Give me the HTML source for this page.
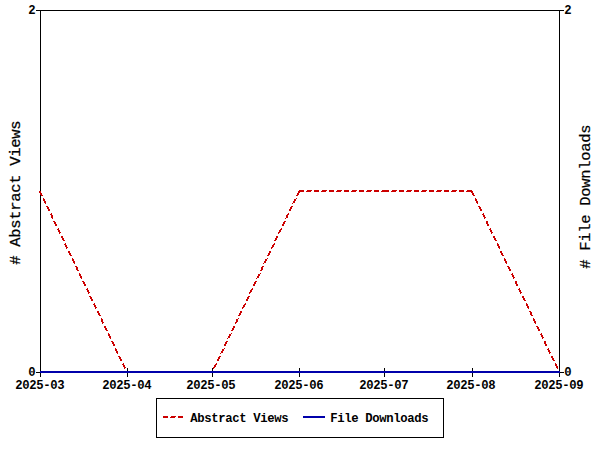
<!DOCTYPE html>
<html>
<head>
<meta charset="utf-8">
<title>Usage statistics chart</title>
<style>
html,body{margin:0;padding:0;background:#fff;}
body{width:600px;height:450px;overflow:hidden;}
svg{display:block;}
.s{font-family:"Liberation Mono",monospace;font-weight:bold;font-size:12.25px;letter-spacing:-0.35px;fill:#000;}
.t{font-family:"Liberation Mono",monospace;font-weight:normal;font-size:15.5px;letter-spacing:-0.3px;fill:#000;stroke:#000;stroke-width:0.25px;}
</style>
</head>
<body>
<svg width="600" height="450" viewBox="0 0 600 450">
<rect width="600" height="450" fill="#fff"/>
<g shape-rendering="crispEdges" stroke="#000" stroke-width="1" fill="none">
<path d="M36 10.5H564M36 372.5H564M40.5 10V377M559.5 10V377"/>
<path d="M127.5 368V377M212.5 368V377M299.5 368V377M384.5 368V377M472.5 368V377"/>
<rect x="156.5" y="398.5" width="287" height="39"/>
</g>
<path fill="#cc0000" shape-rendering="crispEdges" d="M299 190h5v1h-5zM307 190h5v1h-5zM314 190h5v1h-5zM322 190h5v1h-5zM329 190h5v1h-5zM337 190h5v1h-5zM344 190h5v1h-5zM352 190h5v1h-5zM359 190h5v1h-5zM367 190h5v1h-5zM374 190h5v1h-5zM382 190h7v1h-7zM392 190h5v1h-5zM399 190h5v1h-5zM407 190h5v1h-5zM414 190h5v1h-5zM422 190h5v1h-5zM429 190h5v1h-5zM437 190h5v1h-5zM444 190h5v1h-5zM452 190h5v1h-5zM459 190h5v1h-5zM467 190h5v1h-5zM39 191h2v1h-2zM298 191h6v1h-6zM306 191h5v1h-5zM314 191h5v1h-5zM321 191h5v1h-5zM329 191h5v1h-5zM336 191h5v1h-5zM344 191h5v1h-5zM351 191h5v1h-5zM359 191h5v1h-5zM366 191h5v1h-5zM374 191h5v1h-5zM381 191h8v1h-8zM391 191h5v1h-5zM399 191h5v1h-5zM406 191h5v1h-5zM414 191h5v1h-5zM421 191h5v1h-5zM429 191h5v1h-5zM436 191h5v1h-5zM444 191h5v1h-5zM451 191h5v1h-5zM459 191h5v1h-5zM466 191h7v1h-7zM39 192h2v1h-2zM298 192h2v1h-2zM471 192h2v1h-2zM40 193h2v1h-2zM297 193h2v1h-2zM472 193h2v1h-2zM40 194h2v1h-2zM297 194h2v1h-2zM472 194h2v1h-2zM41 195h2v1h-2zM296 195h2v1h-2zM473 195h2v1h-2zM43 198h1v1h-1zM296 198h1v1h-1zM475 198h1v1h-1zM43 199h2v1h-2zM294 199h2v1h-2zM475 199h2v1h-2zM43 200h2v1h-2zM294 200h2v1h-2zM475 200h2v1h-2zM44 201h2v1h-2zM293 201h2v1h-2zM476 201h2v1h-2zM44 202h2v1h-2zM293 202h2v1h-2zM476 202h2v1h-2zM45 203h1v1h-1zM292 203h1v1h-1zM477 203h1v1h-1zM46 206h2v1h-2zM291 206h2v1h-2zM478 206h2v1h-2zM47 207h2v1h-2zM290 207h2v1h-2zM479 207h2v1h-2zM47 208h2v1h-2zM290 208h2v1h-2zM479 208h2v1h-2zM48 209h2v1h-2zM289 209h2v1h-2zM480 209h2v1h-2zM48 210h2v1h-2zM289 210h2v1h-2zM480 210h2v1h-2zM51 213h1v1h-1zM288 213h1v1h-1zM483 213h1v1h-1zM50 214h2v1h-2zM287 214h2v1h-2zM482 214h2v1h-2zM51 215h2v1h-2zM286 215h2v1h-2zM483 215h2v1h-2zM51 216h2v1h-2zM286 216h2v1h-2zM483 216h2v1h-2zM51 217h2v1h-2zM286 217h2v1h-2zM484 217h2v1h-2zM52 218h1v1h-1zM285 218h1v1h-1zM484 218h1v1h-1zM53 221h2v1h-2zM284 221h2v1h-2zM486 221h2v1h-2zM54 222h2v1h-2zM283 222h2v1h-2zM486 222h2v1h-2zM54 223h2v1h-2zM283 223h2v1h-2zM486 223h2v1h-2zM55 224h2v1h-2zM282 224h2v1h-2zM487 224h2v1h-2zM55 225h2v1h-2zM282 225h2v1h-2zM487 225h2v1h-2zM58 228h1v1h-1zM281 228h1v1h-1zM490 228h1v1h-1zM57 229h2v1h-2zM280 229h2v1h-2zM489 229h2v1h-2zM58 230h2v1h-2zM279 230h2v1h-2zM490 230h2v1h-2zM58 231h2v1h-2zM279 231h2v1h-2zM490 231h2v1h-2zM59 232h2v1h-2zM278 232h2v1h-2zM491 232h2v1h-2zM59 233h1v1h-1zM278 233h1v1h-1zM491 233h1v1h-1zM61 236h2v1h-2zM276 236h2v1h-2zM493 236h2v1h-2zM61 237h2v1h-2zM276 237h2v1h-2zM493 237h2v1h-2zM62 238h2v1h-2zM275 238h2v1h-2zM494 238h2v1h-2zM62 239h2v1h-2zM275 239h2v1h-2zM494 239h2v1h-2zM63 240h2v1h-2zM274 240h2v1h-2zM495 240h2v1h-2zM65 243h1v1h-1zM274 243h1v1h-1zM497 243h1v1h-1zM64 244h2v1h-2zM273 244h2v1h-2zM497 244h2v1h-2zM65 245h2v1h-2zM272 245h2v1h-2zM497 245h2v1h-2zM65 246h2v1h-2zM272 246h2v1h-2zM498 246h2v1h-2zM66 247h2v1h-2zM271 247h2v1h-2zM498 247h2v1h-2zM66 248h1v1h-1zM271 248h1v1h-1zM499 248h1v1h-1zM68 251h2v1h-2zM269 251h2v1h-2zM500 251h2v1h-2zM68 252h2v1h-2zM269 252h2v1h-2zM500 252h2v1h-2zM69 253h2v1h-2zM268 253h2v1h-2zM501 253h2v1h-2zM69 254h2v1h-2zM268 254h2v1h-2zM501 254h2v1h-2zM70 255h2v1h-2zM267 255h2v1h-2zM502 255h2v1h-2zM72 258h1v1h-1zM267 258h1v1h-1zM504 258h1v1h-1zM72 259h2v1h-2zM265 259h2v1h-2zM504 259h2v1h-2zM72 260h2v1h-2zM265 260h2v1h-2zM504 260h2v1h-2zM73 261h2v1h-2zM264 261h2v1h-2zM505 261h2v1h-2zM73 262h2v1h-2zM264 262h2v1h-2zM505 262h2v1h-2zM74 263h1v1h-1zM263 263h1v1h-1zM506 263h1v1h-1zM75 266h2v1h-2zM262 266h2v1h-2zM507 266h2v1h-2zM76 267h2v1h-2zM261 267h2v1h-2zM508 267h2v1h-2zM76 268h2v1h-2zM261 268h2v1h-2zM508 268h2v1h-2zM76 269h2v1h-2zM261 269h2v1h-2zM509 269h2v1h-2zM77 270h2v1h-2zM260 270h2v1h-2zM509 270h2v1h-2zM79 273h1v1h-1zM260 273h1v1h-1zM512 273h1v1h-1zM79 274h2v1h-2zM258 274h2v1h-2zM511 274h2v1h-2zM79 275h2v1h-2zM258 275h2v1h-2zM512 275h2v1h-2zM80 276h2v1h-2zM257 276h2v1h-2zM512 276h2v1h-2zM80 277h2v1h-2zM257 277h2v1h-2zM513 277h2v1h-2zM81 278h1v1h-1zM256 278h1v1h-1zM513 278h1v1h-1zM82 281h2v1h-2zM255 281h2v1h-2zM515 281h2v1h-2zM83 282h2v1h-2zM254 282h2v1h-2zM515 282h2v1h-2zM83 283h2v1h-2zM254 283h2v1h-2zM515 283h2v1h-2zM84 284h2v1h-2zM253 284h2v1h-2zM516 284h2v1h-2zM84 285h2v1h-2zM253 285h2v1h-2zM516 285h2v1h-2zM87 288h1v1h-1zM252 288h1v1h-1zM519 288h1v1h-1zM86 289h2v1h-2zM251 289h2v1h-2zM518 289h2v1h-2zM87 290h2v1h-2zM250 290h2v1h-2zM519 290h2v1h-2zM87 291h2v1h-2zM250 291h2v1h-2zM519 291h2v1h-2zM88 292h2v1h-2zM249 292h2v1h-2zM520 292h2v1h-2zM88 293h1v1h-1zM249 293h1v1h-1zM520 293h1v1h-1zM89 296h2v1h-2zM248 296h2v1h-2zM522 296h2v1h-2zM90 297h2v1h-2zM247 297h2v1h-2zM522 297h2v1h-2zM90 298h2v1h-2zM247 298h2v1h-2zM523 298h2v1h-2zM91 299h2v1h-2zM246 299h2v1h-2zM523 299h2v1h-2zM91 300h2v1h-2zM246 300h2v1h-2zM524 300h2v1h-2zM94 303h1v1h-1zM245 303h1v1h-1zM526 303h1v1h-1zM93 304h2v1h-2zM244 304h2v1h-2zM526 304h2v1h-2zM94 305h2v1h-2zM243 305h2v1h-2zM526 305h2v1h-2zM94 306h2v1h-2zM243 306h2v1h-2zM527 306h2v1h-2zM95 307h2v1h-2zM242 307h2v1h-2zM527 307h2v1h-2zM95 308h1v1h-1zM242 308h1v1h-1zM528 308h1v1h-1zM97 311h2v1h-2zM240 311h2v1h-2zM529 311h2v1h-2zM97 312h2v1h-2zM240 312h2v1h-2zM530 312h2v1h-2zM98 313h2v1h-2zM239 313h2v1h-2zM530 313h2v1h-2zM98 314h2v1h-2zM239 314h2v1h-2zM530 314h2v1h-2zM99 315h2v1h-2zM238 315h2v1h-2zM531 315h2v1h-2zM101 318h1v1h-1zM238 318h1v1h-1zM533 318h1v1h-1zM101 319h2v1h-2zM236 319h2v1h-2zM533 319h2v1h-2zM101 320h2v1h-2zM236 320h2v1h-2zM533 320h2v1h-2zM101 321h2v1h-2zM236 321h2v1h-2zM534 321h2v1h-2zM102 322h2v1h-2zM235 322h2v1h-2zM534 322h2v1h-2zM102 323h1v1h-1zM235 323h1v1h-1zM535 323h1v1h-1zM104 326h2v1h-2zM233 326h2v1h-2zM536 326h2v1h-2zM104 327h2v1h-2zM233 327h2v1h-2zM537 327h2v1h-2zM105 328h2v1h-2zM232 328h2v1h-2zM537 328h2v1h-2zM105 329h2v1h-2zM232 329h2v1h-2zM538 329h2v1h-2zM106 330h2v1h-2zM231 330h2v1h-2zM538 330h2v1h-2zM108 333h1v1h-1zM231 333h1v1h-1zM541 333h1v1h-1zM108 334h2v1h-2zM229 334h2v1h-2zM540 334h2v1h-2zM108 335h2v1h-2zM229 335h2v1h-2zM541 335h2v1h-2zM109 336h2v1h-2zM228 336h2v1h-2zM541 336h2v1h-2zM109 337h2v1h-2zM228 337h2v1h-2zM542 337h2v1h-2zM110 338h1v1h-1zM227 338h1v1h-1zM542 338h1v1h-1zM111 341h2v1h-2zM226 341h2v1h-2zM544 341h2v1h-2zM112 342h2v1h-2zM225 342h2v1h-2zM544 342h2v1h-2zM112 343h2v1h-2zM225 343h2v1h-2zM544 343h2v1h-2zM113 344h2v1h-2zM224 344h2v1h-2zM545 344h2v1h-2zM113 345h2v1h-2zM224 345h2v1h-2zM545 345h2v1h-2zM115 348h1v1h-1zM224 348h1v1h-1zM548 348h1v1h-1zM115 349h2v1h-2zM222 349h2v1h-2zM547 349h2v1h-2zM115 350h2v1h-2zM222 350h2v1h-2zM548 350h2v1h-2zM116 351h2v1h-2zM221 351h2v1h-2zM548 351h2v1h-2zM116 352h2v1h-2zM221 352h2v1h-2zM549 352h2v1h-2zM117 353h1v1h-1zM220 353h1v1h-1zM549 353h1v1h-1zM118 356h2v1h-2zM219 356h2v1h-2zM551 356h2v1h-2zM119 357h2v1h-2zM218 357h2v1h-2zM551 357h2v1h-2zM119 358h2v1h-2zM218 358h2v1h-2zM552 358h2v1h-2zM120 359h2v1h-2zM217 359h2v1h-2zM552 359h2v1h-2zM120 360h2v1h-2zM217 360h2v1h-2zM553 360h2v1h-2zM123 363h1v1h-1zM216 363h1v1h-1zM555 363h1v1h-1zM122 364h2v1h-2zM215 364h2v1h-2zM555 364h2v1h-2zM123 365h2v1h-2zM214 365h2v1h-2zM555 365h2v1h-2zM123 366h2v1h-2zM214 366h2v1h-2zM556 366h2v1h-2zM124 367h2v1h-2zM213 367h2v1h-2zM556 367h2v1h-2zM124 368h1v1h-1zM213 368h1v1h-1zM557 368h1v1h-1z"/>
<g fill="#0000aa" shape-rendering="crispEdges"><rect x="40" y="371" width="520" height="2"/><rect x="303" y="416" width="22" height="2"/></g>
<path fill="#cc0000" shape-rendering="crispEdges" d="M163 416h5v1h-5zM171 416h5v1h-5zM178 416h5v1h-5zM163 417h5v1h-5zM170 417h5v1h-5zM178 417h5v1h-5z"/>
<g>
<g class="s">
<text x="28.25" y="13.5">2</text>
<text x="28.25" y="375.5">0</text>
<text x="564.25" y="13.5">2</text>
<text x="564.25" y="375.5">0</text>
<text x="15.25" y="388.5">2025-03</text>
<text x="102.25" y="388.5">2025-04</text>
<text x="186.25" y="388.5">2025-05</text>
<text x="274.25" y="388.5">2025-06</text>
<text x="359.25" y="388.5">2025-07</text>
<text x="446.25" y="388.5">2025-08</text>
<text x="534.25" y="388.5">2025-09</text>
<text x="190.25" y="421.5">Abstract&#160;Views</text>
<text x="330.25" y="421.5">File&#160;Downloads</text>
</g>
<g class="t">
<text transform="translate(20.25 264.75) rotate(-90)" style="stroke-width:0.25px">#&#160;Abstract&#160;Views</text>
<text transform="translate(589.5 268.75) rotate(-90)" style="stroke-width:0.2px">#&#160;File&#160;Downloads</text>
</g>
</g>
</svg>
</body>
</html>
